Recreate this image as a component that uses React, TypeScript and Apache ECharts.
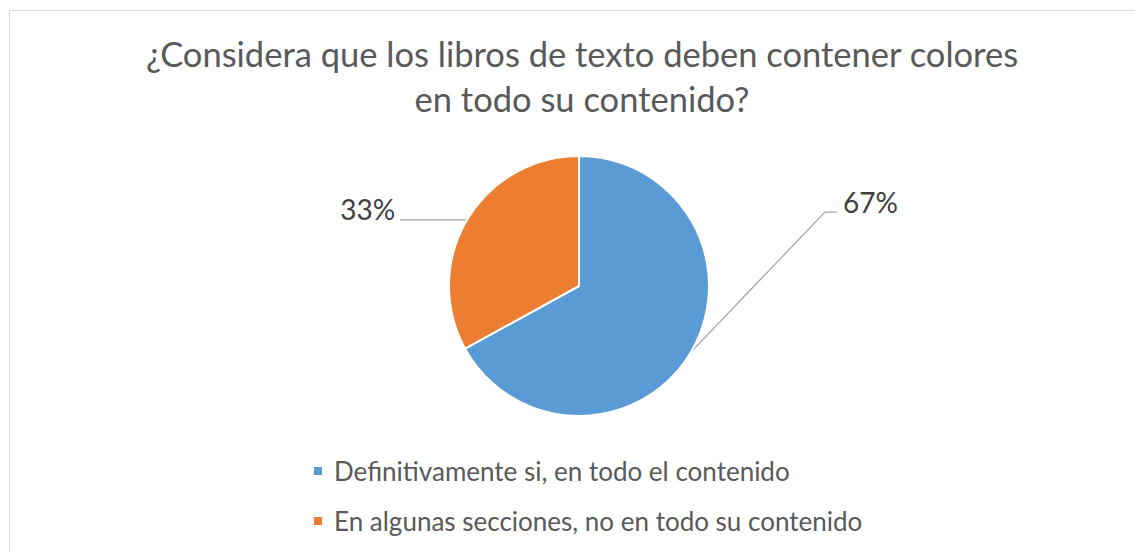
import React, { useEffect, useRef } from "react";
import * as echarts from "echarts";

const titleLines = ["¿Considera que los libros de texto deben contener colores", "en todo su contenido?"];
const categories = ["Definitivamente si, en todo el contenido", "En algunas secciones, no en todo su contenido"];
const values = [67, 33];
const colors = ["#5B9BD5", "#ED7D31"];

const W = 1135;
const H = 552;
const CX = 579;
const CY = 286;
const R = 130;

function edgePoint(idx: number): number[] {
  const total = values.reduce((a, b) => a + b, 0);
  let start = 0;
  for (let i = 0; i < idx; i++) start += values[i];
  const mid = (start + values[idx] / 2) / total; // fraction clockwise from top
  const ang = -Math.PI / 2 + mid * Math.PI * 2;
  return [CX + R * Math.cos(ang), CY + R * Math.sin(ang)];
}

export default function App() {
  const ref = useRef<HTMLDivElement>(null);
  useEffect(() => {
    document.body.style.margin = "0";
    const chart = echarts.init(ref.current!, null, { renderer: "svg" });
    chart.setOption({
      animation: false,
      backgroundColor: "#ffffff",
      title: {
        text: titleLines.join("\n"),
        left: 582,
        top: 31,
        padding: 0,
        textAlign: "center",
        textStyle: {
          fontFamily: "Lato",
          fontSize: 34.5,
          fontWeight: "normal",
          color: "#595959",
          lineHeight: 45,
        },
      },
      graphic: [
        {
          type: "rect",
          silent: true,
          shape: { x: 9.5, y: 10.5, width: 1200, height: 700 },
          style: { fill: "none", stroke: "#d9d9d9", lineWidth: 1 },
        },
      ],
      legend: {
        orient: "vertical",
        left: 312,
        top: 458,
        padding: 0,
        itemWidth: 10,
        itemHeight: 10,
        itemGap: 24,
        icon: "rect",
        textStyle: {
          fontFamily: "Lato",
          fontSize: 26,
          color: "#595959",
          padding: [0, 0, 0, 6],
        },
        data: categories,
      },
      series: [
        {
          type: "pie",
          center: [CX, CY],
          radius: R,
          startAngle: 90,
          clockwise: true,
          data: categories.map((c, i) => ({
            name: c,
            value: values[i],
            itemStyle: { color: colors[i] },
          })),
          itemStyle: { borderColor: "#ffffff", borderWidth: 2 },
          label: {
            show: true,
            position: "outside",
            formatter: "{d}%",
            fontFamily: "Lato",
            fontSize: 28,
            color: "#404040",
          },
          percentPrecision: 0,
          labelLine: {
            show: true,
            lineStyle: { color: "#a6a6a6", width: 1.3 },
          },
          labelLayout: (params: any) => {
            const idx = params.dataIndex;
            const e = edgePoint(idx);
            if (idx === 0) {
              const elbow = [e[0] + 134, e[1] - 140];
              const end = [elbow[0] + 12, elbow[1]];
              return {
                x: end[0] + 6,
                y: end[1] - 10,
                align: "left",
                verticalAlign: "middle",
                labelLinePoints: [e, elbow, end],
              };
            }
            const end = [e[0] - 67, e[1]];
            return {
              x: end[0] - 5,
              y: end[1] - 11,
              align: "right",
              verticalAlign: "middle",
              labelLinePoints: [e, [e[0] - 1, e[1]], end],
            };
          },
          emphasis: { disabled: true },
        },
      ],
    });
    return () => chart.dispose();
  }, []);
  return <div ref={ref} style={{ width: W, height: H }} />;
}
